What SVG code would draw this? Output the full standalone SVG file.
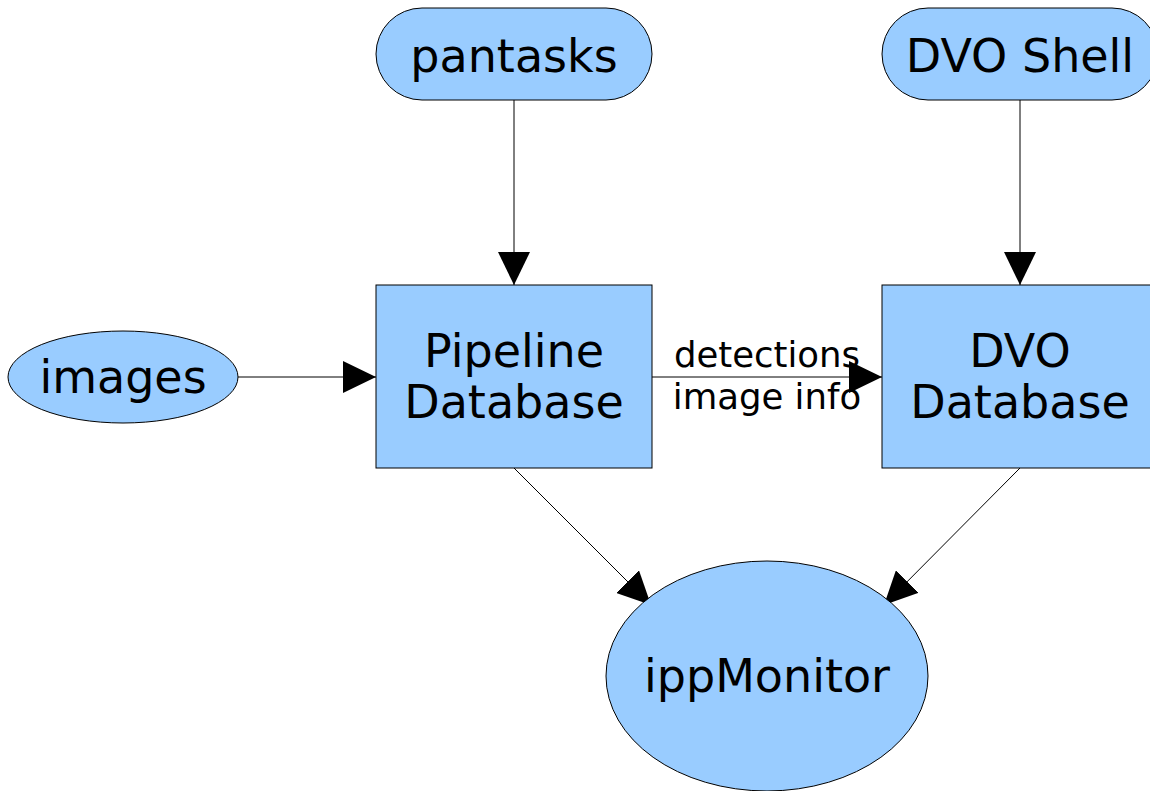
<svg xmlns="http://www.w3.org/2000/svg" width="1150" height="791" viewBox="0 0 1150 791">
<style>
.n{fill:#99ccff;stroke:#000;stroke-width:1}
.t{font-family:"DejaVu Sans",sans-serif;font-size:46px;fill:#000;text-anchor:middle}
.l{font-family:"DejaVu Sans",sans-serif;font-size:35.5px;fill:#000;text-anchor:middle}
.c{stroke:#000;stroke-width:1;fill:none;marker-end:url(#ah)}
</style>
<defs>
<marker id="ah" viewBox="0 0 33 32" refX="33" refY="16" markerWidth="33" markerHeight="32" markerUnits="userSpaceOnUse" orient="auto">
<path d="M0,0 L33,16 L0,32 Z" fill="#000"/>
</marker>
</defs>
<rect width="1150" height="791" fill="#fff"/>
<g id="connectors">
<line class="c" x1="514" y1="100" x2="514" y2="285"/>
<line class="c" x1="1020" y1="100" x2="1020" y2="285"/>
<line class="c" x1="238" y1="377" x2="376" y2="377"/>
<line class="c" x1="652" y1="377" x2="882" y2="377"/>
<line class="c" x1="514" y1="468" x2="651" y2="605"/>
<line class="c" x1="1020" y1="468" x2="884" y2="605"/>
</g>
<g id="pantasks"><rect class="n" x="376" y="8" width="276" height="92" rx="46"/><text class="t" x="514" y="72">pantasks</text></g>
<g id="dvoshell"><rect class="n" x="882" y="8" width="276" height="92" rx="46"/><text class="t" x="1020" y="72">DVO Shell</text></g>
<g id="images"><ellipse class="n" cx="123" cy="377" rx="115" ry="46"/><text class="t" x="123" y="393">images</text></g>
<g id="pipeline"><rect class="n" x="376" y="285" width="276" height="183"/><text class="t" x="514" y="367">Pipeline</text><text class="t" x="514" y="418">Database</text></g>
<g id="dvodb"><rect class="n" x="882" y="285" width="276" height="183"/><text class="t" x="1020" y="367">DVO</text><text class="t" x="1020" y="418">Database</text></g>
<g id="ippmonitor"><ellipse class="n" cx="767" cy="676" rx="161" ry="115"/><text class="t" x="767" y="692">ippMonitor</text></g>
<g id="label"><text class="l" x="767" y="367">detections</text><text class="l" x="767" y="409">image info</text></g>
</svg>
